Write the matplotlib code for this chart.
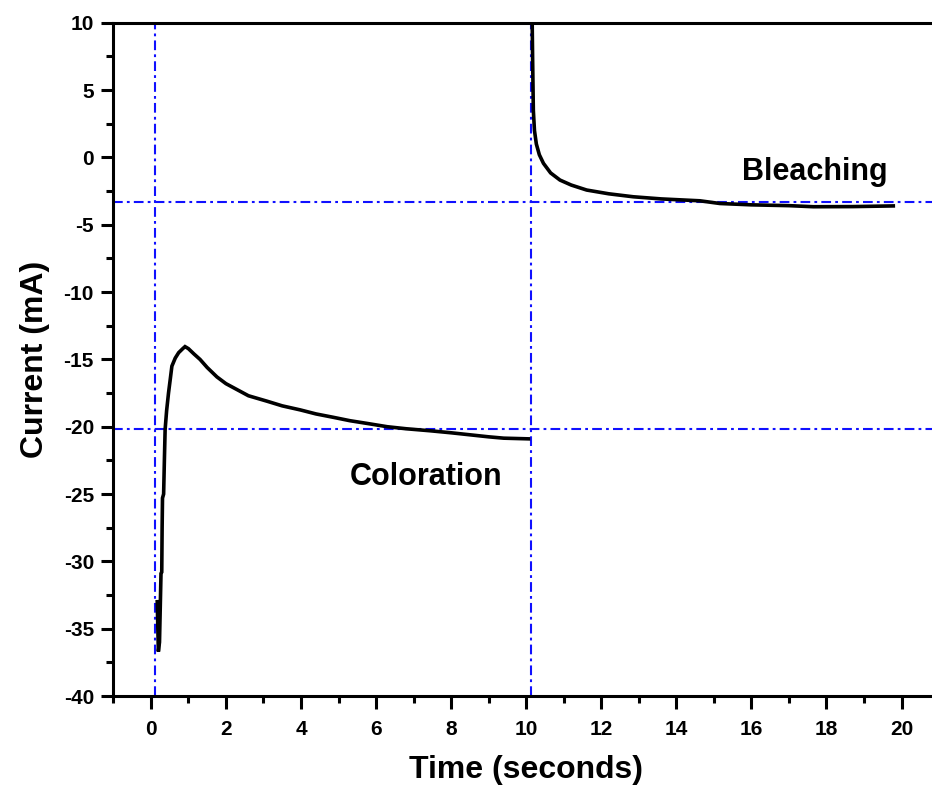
import matplotlib
matplotlib.use("Agg")
import matplotlib.pyplot as plt
from matplotlib.ticker import MultipleLocator

plt.rcParams['font.family'] = ['Liberation Sans', 'DejaVu Sans']
plt.rcParams['font.weight'] = 'bold'
plt.rcParams['lines.scale_dashes'] = False
plt.rcParams['axes.unicode_minus'] = False

# Coloration step (time in s, current in mA)
t_color = [0.17, 0.20, 0.23, 0.27, 0.29, 0.30, 0.31, 0.34, 0.36, 0.38, 0.42, 0.47, 0.52,
           0.56, 0.65, 0.74, 0.85, 0.91, 1.0, 1.15, 1.31, 1.5, 1.76, 2.0, 2.2, 2.6,
           3.09, 3.5, 3.98, 4.4, 4.86, 5.3, 5.75, 6.3, 6.8, 7.44, 8.0, 8.5, 9.0, 9.4, 10.06]
i_color = [-33.0, -36.7, -36.0, -30.9, -30.8, -27.5, -25.3, -25.0, -22.5, -20.2, -18.8, -17.5, -16.4,
           -15.5, -14.9, -14.5, -14.2, -14.05, -14.2, -14.6, -15.0, -15.6, -16.3, -16.8, -17.1, -17.7,
           -18.1, -18.45, -18.75, -19.05, -19.3, -19.55, -19.75, -20.0, -20.15, -20.3, -20.45, -20.6,
           -20.75, -20.85, -20.9]

# Bleaching step
t_bleach = [10.16, 10.17, 10.19, 10.22, 10.27, 10.35, 10.46, 10.65, 10.9, 11.2, 11.61, 12.2,
            12.85, 13.6, 14.63, 15.16, 16.0, 17.0, 17.65, 18.7, 19.78]
i_bleach = [9.9, 7.5, 3.5, 2.0, 1.0, 0.2, -0.44, -1.15, -1.68, -2.05, -2.42, -2.7,
            -2.92, -3.08, -3.22, -3.42, -3.52, -3.58, -3.66, -3.65, -3.6]

# Reference lines
vlines_t = [0.12, 10.12]
hlines_i = [-3.3, -20.2]

xticks = list(range(0, 21, 2))
yticks = list(range(-40, 11, 5))

fig = plt.figure(figsize=(9.32, 7.92), dpi=100)
ax = fig.add_axes([0.1216, 0.1212, 0.886, 0.850])

blue = '#1010ff'
dash = (0, (7, 3, 2, 3))
for xv in vlines_t:
    ax.axvline(xv, color=blue, lw=1.5, linestyle=dash, zorder=1)
for yv in hlines_i:
    ax.axhline(yv, color=blue, lw=1.5, linestyle=dash, zorder=1)

ax.plot(t_color, i_color, color='black', lw=2.6, zorder=3, solid_joinstyle='miter')
ax.plot(t_bleach, i_bleach, color='black', lw=2.6, zorder=3, solid_joinstyle='miter')

ax.set_xlim(-1, 21)
ax.set_ylim(-40, 10)
ax.set_xticks(xticks)
ax.set_yticks(yticks)
ax.xaxis.set_minor_locator(MultipleLocator(1))
ax.yaxis.set_minor_locator(MultipleLocator(2.5))

for side in ['left', 'bottom', 'top', 'right']:
    ax.spines[side].set_linewidth(2.2)
ax.spines['right'].set_visible(False)

ax.tick_params(axis='both', which='major', direction='out', length=9, width=2.2,
               labelsize=15, top=False, right=False)
ax.tick_params(axis='both', which='minor', direction='out', length=5, width=2.2,
               top=False, right=False)
ax.tick_params(axis='y', which='major', pad=5)
ax.tick_params(axis='x', which='major', pad=8)
for lab in ax.get_xticklabels() + ax.get_yticklabels():
    lab.set_fontweight('bold')

ax.set_xlabel('Time (seconds)', fontsize=23, fontweight='bold', labelpad=12)
ax.set_ylabel('Current (mA)', fontsize=23, fontweight='bold', labelpad=10)

ax.text(17.7, -1.1, 'Bleaching', fontsize=22, fontweight='bold', ha='center', va='center')
ax.text(7.33, -23.75, 'Coloration', fontsize=22, fontweight='bold', ha='center', va='center')

fig.savefig('out.png', dpi=100)
